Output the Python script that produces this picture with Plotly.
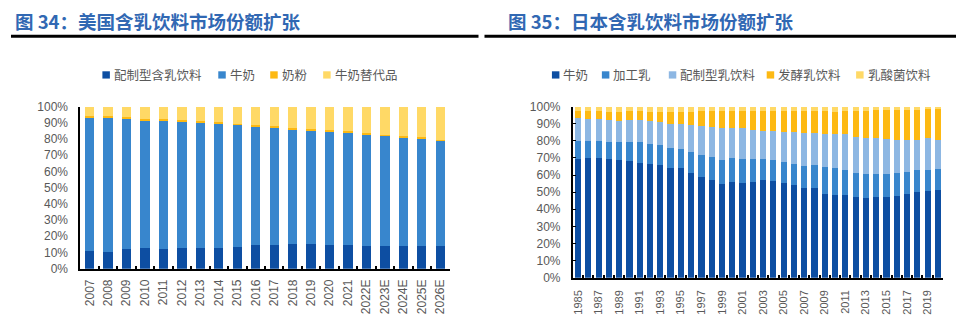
import plotly.graph_objects as go

W, H = 956, 324

# ---------------- US data (图34) ----------------
us_years = ["2007", "2008", "2009", "2010", "2011", "2012", "2013", "2014", "2015", "2016",
            "2017", "2018", "2019", "2020", "2021", "2022E", "2023E", "2024E", "2025E", "2026E"]
us_formula = [11.0, 10.4, 12.0, 12.6, 12.0, 12.6, 13.0, 13.0, 13.4, 14.4,
              14.4, 15.0, 15.0, 14.4, 14.4, 13.8, 13.8, 13.8, 13.8, 13.8]
us_milk = [82.7, 83.1, 80.9, 79.3, 79.9, 78.5, 77.6, 76.8, 75.6, 73.8,
           73.0, 71.0, 70.4, 70.2, 69.7, 69.3, 68.5, 67.5, 66.5, 65.3]
us_powder = [0.4, 0.4, 0.4, 0.6, 0.4, 0.4, 0.3, 0.4, 0.4, 0.2,
             0.6, 0.6, 0.8, 1.0, 0.5, 0.6, 0.4, 0.6, 0.6, 0.4]
us_alt = [5.9, 6.1, 6.7, 7.5, 7.7, 8.5, 9.1, 9.8, 10.6, 11.6,
          12.0, 13.4, 13.8, 14.4, 15.4, 16.3, 17.3, 18.1, 19.1, 20.5]

# ---------------- Japan data (图35) ----------------
jp_years = [str(y) for y in range(1985, 2021)]
jp_label_years = ["1985", "1987", "1989", "1991", "1993", "1995", "1997", "1999", "2001",
                  "2003", "2005", "2007", "2009", "2011", "2013", "2015", "2017", "2019"]
jp_milk = [69.5, 69.7, 70.0, 69.5, 68.7, 68.4, 67.2, 66.5, 65.9, 64.2, 64.0, 60.9, 58.8, 57.3, 54.9,
           56.2, 55.4, 56.2, 57.3, 56.7, 55.4, 53.9, 52.6, 52.6, 48.9, 48.3, 48.3, 47.0, 46.6, 47.0,
           47.0, 47.6, 48.7, 50.2, 50.7, 51.1]
jp_processed = [10.1, 9.9, 9.6, 9.9, 10.3, 10.6, 11.8, 11.6, 11.4, 11.6, 11.3, 12.7, 12.7, 13.3, 14.0,
                13.7, 13.9, 13.1, 12.0, 12.2, 12.4, 12.4, 12.4, 13.3, 15.9, 15.7, 14.6, 13.9, 13.9, 13.5,
                13.5, 13.3, 13.1, 12.5, 12.2, 12.2]
jp_formula = [13.7, 13.3, 13.3, 12.9, 12.6, 12.9, 12.9, 13.3, 13.5, 13.9, 14.4, 15.7, 17.3, 17.6, 18.6,
              17.6, 18.0, 17.0, 16.6, 17.0, 17.6, 18.7, 19.8, 18.9, 19.3, 19.7, 21.0, 21.5, 21.3, 21.3,
              20.4, 19.4, 18.9, 18.0, 18.6, 17.4]
jp_ferment = [3.9, 4.3, 4.3, 4.3, 5.0, 5.3, 5.3, 5.2, 5.8, 7.3, 7.3, 7.7, 8.8, 9.4, 10.1,
              10.1, 10.3, 11.3, 11.7, 11.7, 12.2, 12.6, 12.8, 12.8, 13.3, 13.3, 13.3, 15.2, 15.8, 16.1,
              17.0, 17.6, 17.2, 17.2, 17.0, 17.8]
jp_lactic = [2.8, 2.8, 2.8, 3.4, 3.4, 2.8, 2.8, 3.4, 3.4, 3.0, 3.0, 3.0, 2.4, 2.4, 2.4,
             2.4, 2.4, 2.4, 2.4, 2.4, 2.4, 2.4, 2.4, 2.4, 2.6, 3.0, 2.8, 2.4, 2.4, 2.1,
             2.1, 2.1, 2.1, 2.1, 1.5, 1.5]

C_DARK = "#0D4EA2"
C_MID = "#3886CD"
C_LIGHT = "#8DB7E3"
C_ORANGE = "#FDB913"
C_YELLOW = "#FFD966"

us_series = [("配制型含乳饮料", us_formula, C_DARK), ("牛奶", us_milk, C_MID),
             ("奶粉", us_powder, C_ORANGE), ("牛奶替代品", us_alt, C_YELLOW)]
jp_series = [("牛奶", jp_milk, C_DARK), ("加工乳", jp_processed, C_MID),
             ("配制型乳饮料", jp_formula, C_LIGHT), ("发酵乳饮料", jp_ferment, C_ORANGE),
             ("乳酸菌饮料", jp_lactic, C_YELLOW)]

fig = go.Figure()
for name, vals, col in us_series:
    fig.add_trace(go.Bar(x=us_years, y=vals, name=name, marker=dict(color=col, line=dict(width=0)),
                         xaxis="x", yaxis="y", showlegend=False))
for name, vals, col in jp_series:
    fig.add_trace(go.Bar(x=jp_years, y=vals, name=name, marker=dict(color=col, line=dict(width=0)),
                         xaxis="x2", yaxis="y2", showlegend=False, width=0.6))

def px_x(p):
    return p / W

def px_y(p):
    return 1 - p / H

tick_font = dict(family="Liberation Sans, Arial, sans-serif", size=12, color="#595959")
pct_vals = list(range(0, 101, 10))
pct_text = [f"{v}%" for v in pct_vals]

jp_ticktext = [y if y in jp_label_years else "" for y in jp_years]

fig.update_layout(
    width=W, height=H, autosize=False,
    margin=dict(l=0, r=0, t=0, b=0),
    paper_bgcolor="white", plot_bgcolor="white",
    barmode="stack",
    bargap=0.5,
    xaxis=dict(domain=[px_x(79.5), px_x(449)], anchor="y", type="category",
               showline=True, linecolor="black", linewidth=2,
               ticks="inside", tickson="boundaries", ticklen=3, tickcolor="black", tickwidth=1.5,
               tickangle=-90, tickfont=tick_font, showgrid=False, ticklabelstandoff=4),
    yaxis=dict(domain=[px_y(273.5), px_y(104)], anchor="x", range=[0, 100],
               tickvals=pct_vals, ticktext=pct_text, tickfont=tick_font,
               showline=True, linecolor="black", linewidth=2, ticks="",
               showgrid=False, zeroline=False, ticklabelstandoff=8),
    xaxis2=dict(domain=[px_x(572.5), px_x(943)], anchor="y2", type="category",
                tickvals=jp_years, ticktext=jp_ticktext,
                showline=True, linecolor="black", linewidth=2,
                ticks="inside", tickson="boundaries", ticklen=3, tickcolor="black", tickwidth=1.5,
                tickangle=-90, tickfont=dict(family="Liberation Sans, Arial, sans-serif", size=11, color="#595959"),
                showgrid=False, ticklabelstandoff=6),
    yaxis2=dict(domain=[px_y(283), px_y(104)], anchor="x2", range=[0, 100],
                tickvals=pct_vals, ticktext=pct_text, tickfont=tick_font,
                showline=True, linecolor="black", linewidth=2,
                ticks="inside", ticklen=3, tickcolor="black",
                showgrid=False, zeroline=False, ticklabelstandoff=8),
)

shapes = []
annotations = []

# Titles and underlines
title_font = dict(family="Noto Sans CJK SC, sans-serif", size=18.5, color="#3168B3")
annotations.append(dict(text="<b>图 34：美国含乳饮料市场份额扩张</b>", x=px_x(12), y=px_y(15),
                        xref="paper", yref="paper", xanchor="left", yanchor="middle",
                        showarrow=False, font=title_font))
annotations.append(dict(text="<b>图 35：日本含乳饮料市场份额扩张</b>", x=px_x(506), y=px_y(15),
                        xref="paper", yref="paper", xanchor="left", yanchor="middle",
                        showarrow=False, font=title_font))
for x0, x1 in [(10, 478), (484, 956)]:
    shapes.append(dict(type="line", xref="paper", yref="paper", x0=px_x(x0), x1=px_x(x1),
                       y0=px_y(30.5), y1=px_y(30.5), line=dict(color="black", width=3)))

# Custom legends
legend_font = dict(family="Noto Sans CJK SC, sans-serif", size=12.5, color="#595959")
us_leg_x = [101.5, 217.5, 269.5, 322.5]
jp_leg_x = [551.5, 601.5, 668.5, 766.5, 856.0]
leg_y = 71
for (name, vals, col), lx in list(zip(us_series, us_leg_x)) + list(zip(jp_series, jp_leg_x)):
    shapes.append(dict(type="rect", xref="paper", yref="paper",
                       x0=px_x(lx), x1=px_x(lx + 7.5), y0=px_y(leg_y + 3.8), y1=px_y(leg_y - 3.8),
                       fillcolor=col, line=dict(width=0)))
    annotations.append(dict(text=name, x=px_x(lx + 9.5), y=px_y(leg_y), xref="paper", yref="paper",
                            xanchor="left", yanchor="middle", showarrow=False, font=legend_font))

fig.update_layout(shapes=shapes, annotations=annotations)

fig.write_html("out.html")
